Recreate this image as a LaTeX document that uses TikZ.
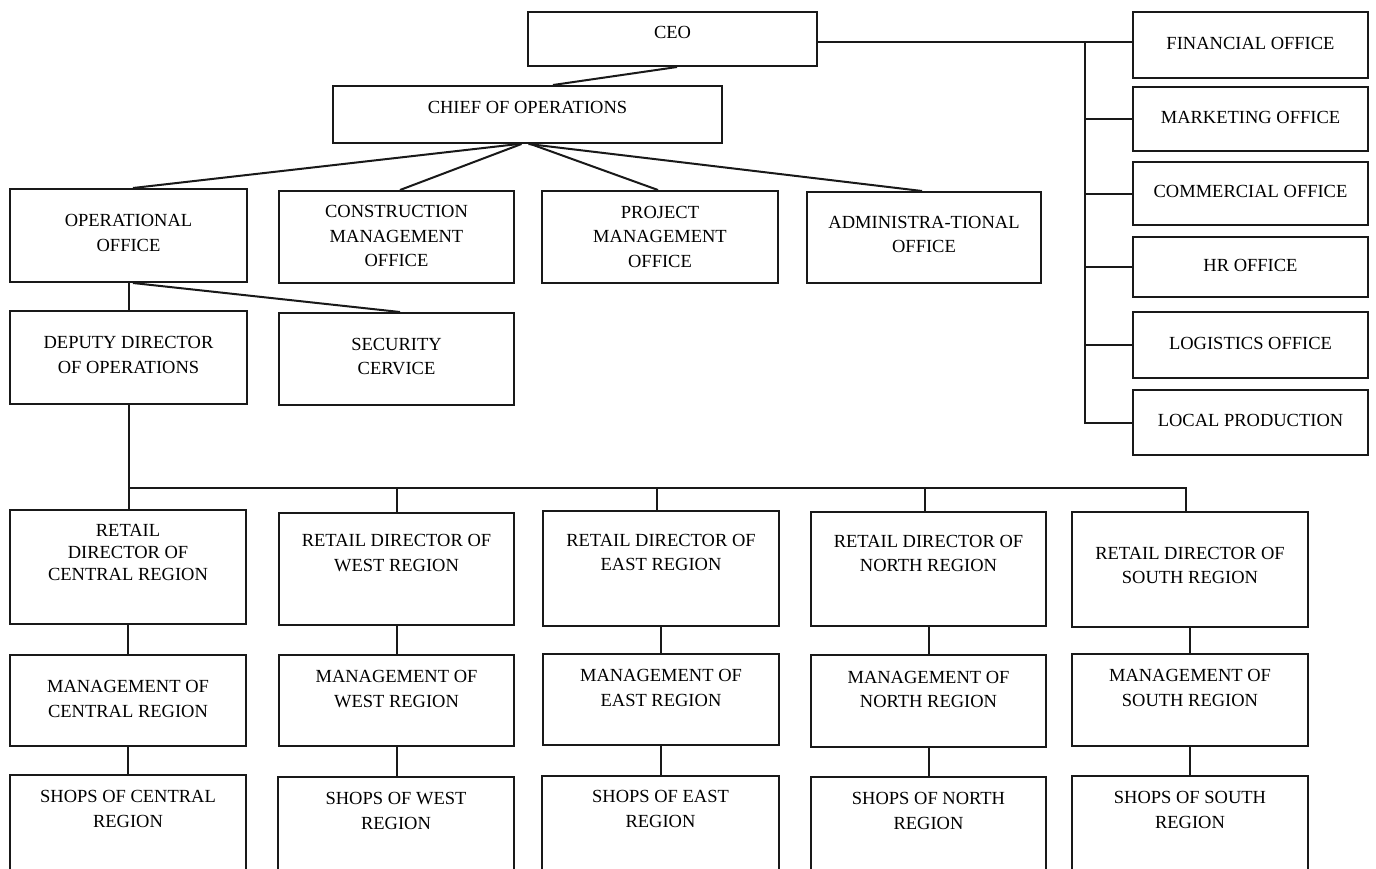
\documentclass[tikz,border=0pt]{standalone}
\usepackage{fontspec}
\setmainfont{Liberation Serif}
\tikzset{
  box/.style={draw=black!90, line width=2pt, rectangle, inner sep=0pt},
  txt/.style={inner sep=0pt, align=center, text depth=0pt, font=\fontsize{18.5}{24.5}\selectfont},
  tight/.style={font=\fontsize{18.5}{22}\selectfont},
  con/.style={draw=black!90, line width=2pt}
}
\newcommand\orgbox[8][]{%
  \node[box, minimum width={(#5-#3)*1pt}, minimum height={(#6-#4)*1pt}] (#2) at ({(#3+#5)/2},{(#4+#6)/2}) {};
  \node[txt,#1] (#2t) at ({(#3+#5)/2},#7) {#8};
}
\begin{document}
\begin{tikzpicture}[x=1pt,y=-1pt]
\fill[white] (0,0) rectangle (1376,868);
\clip (0,0) rectangle (1376,868);
% top
\orgbox{ceo}{528}{12}{817}{66}{32}{CEO}
\orgbox{coo}{333}{86}{722}{143}{107}{CHIEF OF OPERATIONS}
% right column
\orgbox{fin}{1133}{12}{1368}{78}{43}{FINANCIAL OFFICE}
\orgbox{mkt}{1133}{87}{1368}{151}{117}{MARKETING OFFICE}
\orgbox{com}{1133}{162}{1368}{225}{191}{COMMERCIAL OFFICE}
\orgbox{hr}{1133}{237}{1368}{297}{265}{HR OFFICE}
\orgbox{log}{1133}{312}{1368}{378}{343}{LOGISTICS OFFICE}
\orgbox{loc}{1133}{390}{1368}{455}{420}{LOCAL PRODUCTION}
% second row
\orgbox{op}{10}{189}{247}{282}{233}{OPERATIONAL\\OFFICE}
\orgbox{cm}{279}{191}{514}{283}{236}{CONSTRUCTION\\MANAGEMENT\\OFFICE}
\orgbox{pm}{542}{191}{778}{283}{236.5}{PROJECT\\MANAGEMENT\\OFFICE}
\orgbox{adm}{807}{192}{1041}{283}{234.5}{ADMINISTRA-TIONAL\\OFFICE}
% third row
\orgbox{dep}{10}{311}{247}{404}{355}{DEPUTY DIRECTOR\\OF OPERATIONS}
\orgbox{sec}{279}{313}{514}{405}{356.5}{SECURITY\\CERVICE}
% retail directors
\orgbox[tight]{rc}{10}{510}{246}{624}{552}{RETAIL\\DIRECTOR OF\\CENTRAL REGION}
\orgbox{rw}{279}{513}{514}{625}{553}{RETAIL DIRECTOR OF\\WEST REGION}
\orgbox{re}{543}{511}{779}{626}{552.5}{RETAIL DIRECTOR OF\\EAST REGION}
\orgbox{rn}{811}{512}{1046}{626}{553.5}{RETAIL DIRECTOR OF\\NORTH REGION}
\orgbox{rs}{1072}{512}{1308}{627}{565.5}{RETAIL DIRECTOR OF\\SOUTH REGION}
% management
\orgbox{mc}{10}{655}{246}{746}{699}{MANAGEMENT OF\\CENTRAL REGION}
\orgbox{mw}{279}{655}{514}{746}{689}{MANAGEMENT OF\\WEST REGION}
\orgbox{me}{543}{654}{779}{745}{688}{MANAGEMENT OF\\EAST REGION}
\orgbox{mn}{811}{655}{1046}{747}{689.5}{MANAGEMENT OF\\NORTH REGION}
\orgbox{ms}{1072}{654}{1308}{746}{688}{MANAGEMENT OF\\SOUTH REGION}
% shops
\orgbox{sc}{10}{775}{246}{874}{809}{SHOPS OF CENTRAL\\REGION}
\orgbox{sw}{278}{777}{514}{874}{811}{SHOPS OF WEST\\REGION}
\orgbox{se}{542}{776}{779}{874}{809}{SHOPS OF EAST\\REGION}
\orgbox{sn}{811}{777}{1046}{874}{811}{SHOPS OF NORTH\\REGION}
\orgbox{ss}{1072}{776}{1308}{874}{810}{SHOPS OF SOUTH\\REGION}
% connectors top
\draw[con] ([xshift=4.5]ceo.south) -- ([xshift=25.5]coo.north);
\draw[con] ([xshift=-9]coo.south) -- ([xshift=4.5]op.north);
\draw[con] ([xshift=-6]coo.south) -- ([xshift=3.5]cm.north);
\draw[con] ([xshift=3]coo.south) -- ([xshift=-2]pm.north);
\draw[con] ([xshift=1]coo.south) -- ([xshift=-2]adm.north);
\draw[con] (op.south) -- (dep.north);
\draw[con] ([xshift=4.5]op.south) -- ([xshift=3.5]sec.north);
% right side
\coordinate (rb) at (1085,42);
\draw[con] ([yshift=-3]ceo.east) -- ([yshift=3]fin.west);
\draw[con] (rb) |- (loc.west);
\foreach \n in {mkt,com,hr,log}{\draw[con] (rb |- \n.west) -- (\n.west);}
% retail bus
\coordinate (bus) at (128,488);
\draw[con] (dep.south) -- (dep.south |- rc.north);
\draw[con] (bus) -| ([xshift=-4]rs.north);
\draw[con] (rw.north) -- (rw.north |- bus);
\draw[con] ([xshift=-4]re.north) -- ([xshift=-4]re.north |- bus);
\draw[con] ([xshift=-3.5]rn.north) -- ([xshift=-3.5]rn.north |- bus);
% vertical chains
\foreach \a/\b in {rc/mc,mc/sc,rw/mw,mw/sw,re/me,me/se,rn/mn,mn/sn,rs/ms,ms/ss}{\draw[con] (\a.south) -- (\a.south |- \b.north);}
\end{tikzpicture}
\end{document}
